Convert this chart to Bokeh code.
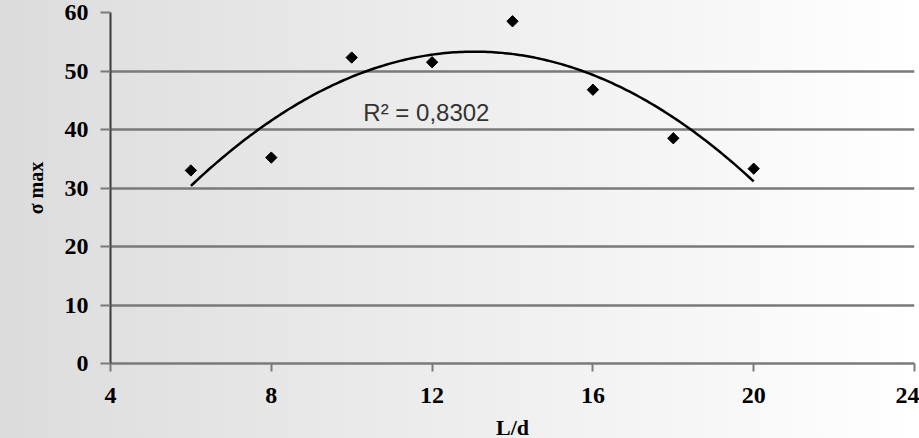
import numpy as np
from bokeh.plotting import figure
from bokeh.models import Label, FixedTicker, Range1d, ColumnDataSource
from bokeh.embed import file_html
from bokeh.resources import INLINE

# data
ld_ratio = [6, 8, 10, 12, 14, 16, 18, 20]
sigma_max = [33.0, 35.2, 52.3, 51.5, 58.5, 46.8, 38.5, 33.3]
x_ticks = [4, 8, 12, 16, 20, 24]
y_ticks = [0, 10, 20, 30, 40, 50, 60]
r2_text = "R\u00b2 = 0,8302"

# quadratic trendline fitted to the data
coef = np.polyfit(ld_ratio, sigma_max, 2)
xs = np.linspace(min(ld_ratio), max(ld_ratio), 200)
ys = np.polyval(coef, xs)

p = figure(frame_width=804, frame_height=351,
           x_range=Range1d(4, 24), y_range=Range1d(0, 60),
           output_backend="svg", toolbar_location=None,
           min_border_left=110, min_border_right=5,
           min_border_top=12, min_border_bottom=75)
p.styles = {"background": "linear-gradient(to right, #dcdcdc, #ffffff)"}
p.border_fill_alpha = 0
p.background_fill_alpha = 0
p.outline_line_color = None

grid_col = "#7a7a7a"
p.xgrid.visible = False
p.ygrid.ticker = FixedTicker(ticks=y_ticks)
p.ygrid.grid_line_color = grid_col
p.ygrid.grid_line_width = 2.5

tick_font = "Liberation Serif"
for ax in (p.xaxis[0], p.yaxis[0]):
    ax.major_label_text_font = tick_font
    ax.major_label_text_font_style = "bold"
    ax.major_label_text_font_size = "24px"
    ax.major_label_text_color = "black"
    ax.minor_tick_line_color = None
    ax.major_tick_in = 0
    ax.major_tick_line_color = grid_col
    ax.major_tick_line_width = 2
    ax.axis_label_text_font = tick_font
    ax.axis_label_text_font_style = "bold"
    ax.axis_label_text_color = "black"

p.xaxis.ticker = FixedTicker(ticks=x_ticks)
p.xaxis.major_tick_out = 8
p.xaxis.major_label_standoff = 16
p.xaxis.axis_line_color = grid_col
p.xaxis.axis_line_width = 2.5
p.xaxis.axis_label = "L/d"
p.xaxis.axis_label_text_font_size = "22px"
p.xaxis.axis_label_standoff = 9

p.yaxis.ticker = FixedTicker(ticks=y_ticks)
p.yaxis.major_tick_out = 10
p.yaxis.major_label_standoff = 12
p.yaxis.axis_line_color = "#3a3a3a"
p.yaxis.axis_line_width = 2
p.yaxis.axis_label = "\u03c3 max"
p.yaxis.axis_label_text_font_size = "20px"
p.yaxis.axis_label_standoff = 15

p.line(xs, ys, line_color="black", line_width=2.5)
src = ColumnDataSource(dict(x=ld_ratio, y=sigma_max))
p.scatter("x", "y", source=src, marker="square", size=8, angle=np.pi / 4,
          fill_color="black", line_color="black")

p.add_layout(Label(x=10.29, y=42.9, text=r2_text, text_font="Liberation Sans",
                   text_font_size="24px", text_color="#333333",
                   text_baseline="alphabetic"))

html = file_html(p, INLINE)
# the reference crops the x-axis title at the bottom edge; hide page scrollbars
html = html.replace("<head>", "<head><style>html,body{overflow:hidden;margin:0;}</style>", 1)
open("out.html", "w").write(html)
